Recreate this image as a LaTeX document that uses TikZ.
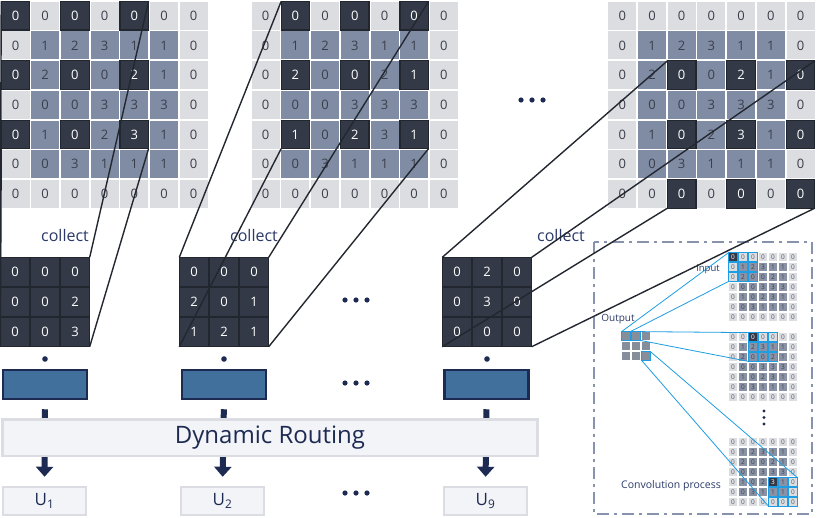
\documentclass[tikz,border=0pt]{standalone}
\usepackage{fontspec}
\setmainfont{Open Sans}
\usetikzlibrary{arrows.meta}
\definecolor{lightc}{HTML}{DCDDE1}
\definecolor{midc}{HTML}{7F8CA4}
\definecolor{darkc}{HTML}{333946}
\definecolor{darkb}{HTML}{22262F}
\definecolor{txt}{HTML}{3A3F4C}
\definecolor{navy}{HTML}{1D2B52}
\definecolor{blueF}{HTML}{41709C}
\definecolor{panel}{HTML}{F3F4F8}
\definecolor{panelb}{HTML}{DCDDE3}
\definecolor{cyanb}{HTML}{1E9DE3}
\definecolor{dashc}{HTML}{8792AC}
\definecolor{linec}{HTML}{23272F}
\definecolor{lbl}{HTML}{2B3A68}
\definecolor{outc}{HTML}{868D9B}
\definecolor{minimid}{HTML}{8A93A6}
\definecolor{minitxt}{HTML}{555A66}

\tikzset{
  cellbase/.style={rectangle, inner sep=0pt, outer sep=0pt, minimum size=28pt, font=\fontsize{13}{13}\selectfont},
  lightcell/.style={cellbase, fill=lightc, text=txt},
  midcell/.style={cellbase, fill=midc, text=txt},
  darkcell/.style={cellbase, fill=darkc, draw=darkb, line width=1.2pt, minimum size=28.5pt, text=white},
  celltype/.code={\ifcase#1\relax\pgfkeysalso{/tikz/lightcell}\or\pgfkeysalso{/tikz/midcell}\or\pgfkeysalso{/tikz/darkcell}\fi},
  minibase/.style={rectangle, inner sep=0pt, outer sep=0pt, minimum size=8.8pt, font=\fontsize{6.5}{6.5}\selectfont},
  minilight/.style={minibase, fill=lightc, text=minitxt},
  minimidc/.style={minibase, fill=minimid, text=txt},
  minidark/.style={minibase, fill=darkc, text=white},
  minitype/.code={\ifcase#1\relax\pgfkeysalso{/tikz/minilight}\or\pgfkeysalso{/tikz/minimidc}\or\pgfkeysalso{/tikz/minidark}\fi},
  matcell/.style={rectangle, inner sep=0pt, outer sep=0pt, minimum size=29.4pt, fill=darkc, draw=darkb, line width=0.6pt, text=white, font=\fontsize{13}{13}\selectfont},
  conn/.style={draw=linec, line width=1.4pt},
  bluel/.style={draw=cyanb, line width=0.8pt},
  bluebox/.style={draw=cyanb, line width=0.9pt},
  collectlbl/.style={text=lbl, font=\fontsize{16}{16}\selectfont, inner sep=0pt},
  vecbox/.style={rectangle, fill=blueF, draw=navy, line width=2.5pt, minimum width=84pt, minimum height=29pt, inner sep=0pt},
  panelbox/.style={rectangle, fill=panel, draw=panelb, line width=2.5pt, inner sep=0pt, text=navy},
  flowarrow/.style={navy, line width=6pt, -{Triangle[width=17pt,length=10pt]}, shorten <=9pt, shorten >=9pt},
  insetlbl/.style={text=lbl, inner sep=0pt},
}

% main 7x7 grid: name, x0, y0, row offset, col offset of dark pattern
\newcommand\drawgrid[5]{%
  \foreach \row [count=\r from 0] in {{0,0,0,0,0,0,0},{0,1,2,3,1,1,0},{0,2,0,0,2,1,0},{0,0,0,3,3,3,0},{0,1,0,2,3,1,0},{0,0,3,1,1,1,0},{0,0,0,0,0,0,0}}{%
    \foreach \v [count=\c from 0] in \row {%
      \pgfmathtruncatemacro\dk{(\r-#4>=0) && (\r-#4<=4) && (\c-#5>=0) && (\c-#5<=4) && (mod(\r-#4,2)==0) && (mod(\c-#5,2)==0)}%
      \pgfmathtruncatemacro\bd{(\r==0) || (\r==6) || (\c==0) || (\c==6)}%
      \pgfmathtruncatemacro\ty{ifthenelse(\dk==1,2,ifthenelse(\bd==1,0,1))}%
      \node[celltype=\ty] (#1-\r-\c) at ({#2+15+29.7*\c},{#3+15.5+29.7*\r}) {\v};
    }%
  }%
}
% small 7x7 grid: name, x0, y0, dark row, dark col
\newcommand\drawmini[5]{%
  \foreach \row [count=\r from 0] in {{0,0,0,0,0,0,0},{0,1,2,3,1,1,0},{0,2,0,0,2,1,0},{0,0,0,3,3,3,0},{0,1,0,2,3,1,0},{0,0,3,1,1,1,0},{0,0,0,0,0,0,0}}{%
    \foreach \v [count=\c from 0] in \row {%
      \pgfmathtruncatemacro\dk{(\r==#4) && (\c==#5)}%
      \pgfmathtruncatemacro\bd{(\r==0) || (\r==6) || (\c==0) || (\c==6)}%
      \pgfmathtruncatemacro\ty{ifthenelse(\dk==1,2,ifthenelse(\bd==1,0,1))}%
      \node[minitype=\ty] (#1-\r-\c) at ({#2+5+10*\c},{#3+5+10*\r}) {\v};
    }%
  }%
}
% 3x3 collected matrix: name, x0, y0, entries
\newcommand\drawmat[4]{%
  \foreach \row [count=\r from 0] in {#4}{%
    \foreach \v [count=\c from 0] in \row {%
      \node[matcell] (#1-\r-\c) at ({#2+15+30*\c},{#3+15+30*\r}) {\v};
    }%
  }%
  \draw[darkb, line width=1pt] (#1-0-0.north west) rectangle (#1-2-2.south east);
}
% blue window around a 3x3 block of a mini grid
\newcommand\bluewin[3]{%
  \foreach \dr in {0,1,2}{\foreach \dc in {0,1,2}{%
    \pgfmathtruncatemacro\rr{#2+\dr}\pgfmathtruncatemacro\cc{#3+\dc}%
    \draw[bluebox] (#1-\rr-\cc.north west) rectangle (#1-\rr-\cc.south east);}}%
  \pgfmathtruncatemacro\re{#2+2}\pgfmathtruncatemacro\ce{#3+2}%
  \draw[cyanb, line width=1.3pt] (#1-#2-#3.north west) rectangle (#1-\re-\ce.south east);
}

\begin{document}
\begin{tikzpicture}[x=1pt,y=-1pt]
\useasboundingbox (0,0) rectangle (817,517);
\fill[white] (0,0) rectangle (817,517);

% ---- large grids ----
\drawgrid{ga}{0.5}{0.2}{0}{0}
\drawgrid{gb}{250.7}{0.2}{0}{1}
\drawgrid{gc}{607.3}{0.2}{2}{2}

\foreach \dx in {-11,0,11} \fill[navy] (532+\dx,100) circle (2.6pt);

% ---- collected matrices ----
\drawmat{ma}{0}{257}{{0,0,0},{0,0,2},{0,0,3}}
\drawmat{mb}{179}{257}{{0,0,0},{2,0,1},{1,2,1}}
\drawmat{mc}{442}{257}{{0,2,0},{0,3,0},{0,0,0}}

\node[collectlbl] (ca) at (65,235) {collect};
\node[collectlbl] (cb) at (254,235) {collect};
\node[collectlbl] (cc) at (561,235) {collect};

\foreach \dx in {-11,0,11} \fill[navy] (356+\dx,300) circle (2.6pt);

% ---- vectors, routing, outputs ----
\foreach \x in {45,224,487} \fill[navy] (\x,359) circle (2.8pt);
\node[vecbox] (ra) at (45,384.5) {};
\node[vecbox] (rb) at (224,384.5) {};
\node[vecbox] (rc) at (486.5,384.5) {};
\foreach \dx in {-11,0,11} \fill[navy] (356+\dx,383) circle (2.6pt);

\node[panelbox, minimum width=83pt, minimum height=28pt, font=\fontsize{17}{17}\selectfont] (ua) at (44.5,501) {U\textsubscript{1}};
\node[panelbox, minimum width=83pt, minimum height=28pt, font=\fontsize{17}{17}\selectfont] (ub) at (222.5,501) {U\textsubscript{2}};
\node[panelbox, minimum width=83pt, minimum height=28pt, font=\fontsize{17}{17}\selectfont] (uc) at (485.5,501) {U\textsubscript{9}};
\foreach \dx in {-11,0,11} \fill[navy] (356+\dx,493) circle (2.6pt);

\draw[flowarrow] (ra.south) -- (ua.north);
\draw[flowarrow] (rb.south) -- (ub.north);
\draw[flowarrow] (rc.south) -- (uc.north);

\node[panelbox, minimum width=535pt, minimum height=36.5pt, font=\fontsize{24}{24}\selectfont] (dr) at (270,437.5) {Dynamic Routing};

% ---- convolution inset ----
\draw[dashc, line width=1.5pt, dash pattern=on 12pt off 5pt on 3pt off 5pt] (594,242) rectangle (812,514);
\drawmini{ia}{728}{252}{0}{0}
\drawmini{ib}{728}{332}{0}{2}
\drawmini{ic}{728}{437}{4}{4}
\bluewin{ia}{0}{0}
\bluewin{ib}{0}{2}
\bluewin{ic}{4}{4}
\foreach \r in {0,1,2}{\foreach \c in {0,1,2}{
  \node[rectangle, fill=outc, minimum size=8.8pt, inner sep=0pt, outer sep=0pt] (out-\r-\c) at (626+10*\c,336+10*\r) {};}}
\draw[bluebox] (out-0-0.north west) rectangle (out-0-0.south east);
\draw[bluebox] (out-0-1.north west) rectangle (out-0-1.south east);
\draw[bluebox] (out-2-2.north west) rectangle (out-2-2.south east);
\draw[bluel] (out-0-0.north west) -- (ia-0-0.north west);
\draw[bluel] (out-0-0.north east) -- (ia-2-0.south west);
\draw[bluel] (out-0-1.north east) -- (ib-0-2.north west);
\draw[bluel] (out-0-1.south east) -- (ib-2-2.south west);
\draw[bluel] (out-2-2.south west) -- (ic-6-4.south west);
\draw[bluel] (out-2-2.north east) -- (ic-4-6.north east);
\foreach \y in {411,417.5,424} \fill[navy] (764,\y) circle (1.7pt);
\node[insetlbl, font=\fontsize{9.5}{9.5}\selectfont] (inl) at (708,269) {Input};
\node[insetlbl, font=\fontsize{10}{10}\selectfont] (outl) at (618,319) {Output};
\node[insetlbl, font=\fontsize{10.5}{10.5}\selectfont] (convl) at (671,486) {Convolution process};

% ---- collect connectors ----
\draw[conn] (ma-0-0.north west) -- (ga-0-0.north west);
\draw[conn] (ma-0-2.north east) -- (ga-0-4.north east);
\draw[conn] (ma-2-0.south west) -- (ga-4-0.south west);
\draw[conn] (ma-2-2.south east) -- (ga-4-4.south east);
\draw[conn] (mb-0-0.north west) -- (gb-0-1.north west);
\draw[conn] (mb-0-2.north east) -- (gb-0-5.north east);
\draw[conn] (mb-2-0.south west) -- (gb-4-1.south west);
\draw[conn] (mb-2-2.south east) -- (gb-4-5.south east);
\draw[conn] (mc-0-0.north west) -- (gc-2-2.north west);
\draw[conn] (mc-0-2.north east) -- (gc-2-6.north east);
\draw[conn] (mc-2-0.south west) -- (gc-6-2.south west);
\draw[conn] (mc-2-2.south east) -- (gc-6-6.south east);
\end{tikzpicture}
\end{document}
